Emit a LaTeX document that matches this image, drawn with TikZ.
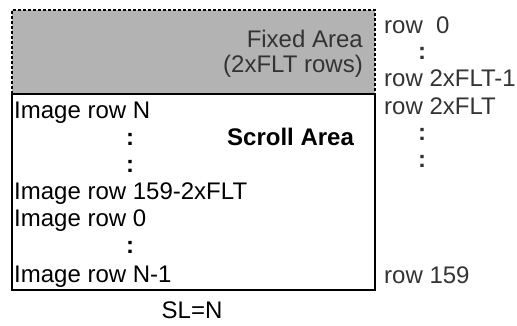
\documentclass[tikz,border=0pt]{standalone}
\usepackage{fontspec}
\setmainfont{Liberation Sans}
\definecolor{fixgray}{HTML}{B3B3B3}
\definecolor{txtgray}{HTML}{333333}
\begin{document}
\begin{tikzpicture}[x=1pt,y=-1pt,
  lbl/.style={inner sep=0pt,font=\fontsize{24}{27}\selectfont},
  leftlbl/.style={lbl,anchor=base west,text=black},
  rightlbl/.style={lbl,anchor=base west,text=txtgray},
  dotlbl/.style={lbl,anchor=base,font=\fontsize{24}{27}\selectfont\bfseries},
  fixlbl/.style={lbl,anchor=base east,text=txtgray},
  dashedge/.style={line width=2pt,dash pattern=on 3pt off 2pt},
  solidedge/.style={line width=2pt}]
\useasboundingbox (0,0) rectangle (517,325);
% fixed area
\fill[fixgray] (12,10) rectangle (375,94);
\draw[dashedge] (12,94) -- (12,10) -- (375,10) -- (375,94);
% scroll area
\draw[solidedge] (12,94) rectangle (375,290);
\node[fixlbl] (fa) at (363,47) {Fixed Area};
\node[fixlbl] (fr) at (363,72) {(2xFLT rows)};
% left labels
\node[leftlbl] (l1) at (14,118) {Image row N};
\node[dotlbl] (d1) at (130,145) {:};
\node[lbl,anchor=base west,font=\fontsize{24}{27}\selectfont\bfseries] (sa) at (227,145) {Scroll Area};
\node[dotlbl] (d2) at (130,172) {:};
\node[leftlbl] (l2) at (14,199) {Image row 159-2xFLT};
\node[leftlbl] (l3) at (14,226) {Image row 0};
\node[dotlbl] (d3) at (130,253) {:};
\node[leftlbl] (l4) at (14,282) {Image row N-1};
% right labels
\node[rightlbl] (r1) at (384,33) {row\ \ 0};
\node[dotlbl,text=txtgray] (rd1) at (422,59.5) {:};
\node[rightlbl] (r2) at (384,86) {row 2xFLT-1};
\node[rightlbl] (r3) at (384,114) {row 2xFLT};
\node[dotlbl,text=txtgray] (rd2) at (422,140) {:};
\node[dotlbl,text=txtgray] (rd3) at (422,167) {:};
\node[rightlbl] (r4) at (384,283) {row 159};
% bottom
\node[lbl,anchor=base] (sl) at (192,318) {SL=N};
\end{tikzpicture}
\end{document}
